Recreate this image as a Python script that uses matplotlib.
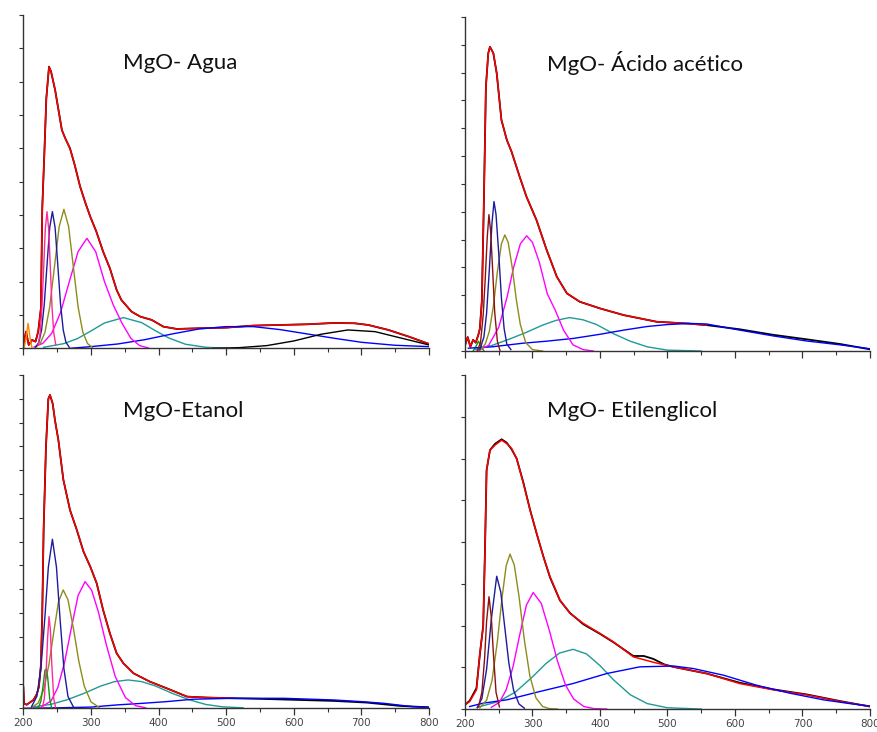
import matplotlib
matplotlib.use("Agg")
import matplotlib.pyplot as plt
from matplotlib.ticker import MultipleLocator, NullFormatter

# ---------------- MgO - Agua ----------------
agua_fit_x = [200, 204, 208, 213, 218, 222, 226, 228, 231, 234, 238, 241, 247, 257, 262, 269, 276, 284, 292, 299,
              308, 318, 328, 338, 345, 360, 373, 390, 407, 427, 460, 500, 540, 580, 620, 660, 690, 710, 740, 770, 800]
agua_fit_y = [0.1, 0.5, 0.1, 0.25, 0.2, 0.5, 1.2, 4.2, 5.8, 7.5, 8.45, 8.3, 7.75, 6.55, 6.3, 6.0, 5.5, 4.85, 4.35, 3.95,
              3.5, 2.9, 2.4, 1.75, 1.45, 1.1, 0.95, 0.85, 0.65, 0.58, 0.6, 0.62, 0.68, 0.7, 0.72, 0.76, 0.75, 0.7, 0.55, 0.35, 0.13]
agua_pink_x = [222, 225, 227.5, 230, 232.5, 235, 237.5, 240, 242.5, 245, 248]
agua_pink_y = [0.1, 0.47, 1.21, 2.38, 3.58, 4.1, 3.58, 2.38, 1.21, 0.47, 0.1]
agua_navy_x = [218, 223, 227, 231, 235, 239, 243, 247, 251, 255, 259, 263, 268]
agua_navy_y = [0.03, 0.18, 0.55, 1.33, 2.49, 3.62, 4.1, 3.62, 2.49, 1.33, 0.55, 0.18, 0.03]
agua_olive_x = [218, 225, 232, 239, 246, 253, 260, 267, 274, 281, 288, 295, 302]
agua_olive_y = [0.03, 0.14, 0.48, 1.24, 2.44, 3.65, 4.17, 3.65, 2.44, 1.24, 0.48, 0.14, 0.03]
agua_magenta_x = [216, 229, 242, 255, 268, 281, 294, 307, 320, 333, 346, 359, 372, 385]
agua_magenta_y = [0.04, 0.15, 0.45, 1.07, 2.0, 2.9, 3.3, 2.9, 2.0, 1.3, 0.75, 0.3, 0.08, 0.01]
agua_teal_x = [230, 260, 280, 300, 320, 348, 375, 395, 415, 440, 470, 500]
agua_teal_y = [0.03, 0.14, 0.29, 0.52, 0.76, 0.92, 0.77, 0.53, 0.31, 0.12, 0.03, 0.0]
agua_blue_x = [270, 300, 340, 380, 420, 460, 500, 540, 580, 620, 660, 700, 750, 800]
agua_blue_y = [0.0, 0.05, 0.13, 0.26, 0.43, 0.58, 0.65, 0.65, 0.56, 0.43, 0.3, 0.18, 0.09, 0.05]
agua_black_x = [480, 520, 560, 600, 640, 680, 720, 760, 800]
agua_black_y = [0, 0.02, 0.08, 0.22, 0.42, 0.55, 0.5, 0.3, 0.1]
agua_orange_x = [201, 204, 207, 210, 213]
agua_orange_y = [0, 0.3, 0.75, 0.3, 0]

# ---------------- MgO - Acido acetico ----------------
acetico_fit_x = [200, 204, 208, 212, 216, 220, 222, 225, 228, 231, 234.5, 237, 242, 247, 254, 262, 269, 281, 291, 306,
                 321, 336, 351, 370, 400, 435, 484, 528, 558]
acetico_fit_y = [0.2, 0.5, 0.15, 0.4, 0.3, 0.6, 0.8, 1.8, 5.4, 9.5, 10.7, 10.93, 10.7, 9.98, 8.3, 7.58, 7.16, 6.26, 5.55, 4.7,
                 3.63, 2.67, 2.07, 1.77, 1.53, 1.29, 1.05, 0.99, 0.93]
acetico_data_x = acetico_fit_x + [607, 657, 706, 756, 800]
acetico_data_y = acetico_fit_y + [0.78, 0.58, 0.42, 0.25, 0.06]
acetico_maroon_x = [218, 223, 227, 230, 233, 235.5, 238, 241, 244, 248, 252]
acetico_maroon_y = [0, 0.3, 1.3, 2.6, 4.1, 4.9, 4.3, 2.9, 1.4, 0.35, 0]
acetico_navy_x = [222, 228, 232, 236, 240, 243, 246, 250, 254, 258, 262, 268]
acetico_navy_y = [0.05, 0.5, 1.35, 2.9, 4.6, 5.37, 4.9, 3.5, 1.9, 0.8, 0.25, 0.05]
acetico_olive_x = [222, 230, 236, 242, 248, 254, 259, 264, 270, 276, 282, 290, 300, 315]
acetico_olive_y = [0.03, 0.25, 0.7, 1.6, 2.85, 3.85, 4.17, 3.9, 3.0, 1.85, 0.95, 0.3, 0.05, 0]
acetico_magenta_x = [220, 235, 250, 262, 272, 282, 291.4, 300, 310, 322, 334, 346, 360, 375, 390]
acetico_magenta_y = [0.03, 0.2, 0.85, 1.9, 3.0, 3.85, 4.14, 3.9, 3.2, 2.05, 1.45, 0.75, 0.22, 0.05, 0.0]
acetico_teal_x = [215, 240, 265, 290, 315, 335, 355, 375, 395, 420, 445, 470, 500, 550]
acetico_teal_y = [0.05, 0.2, 0.42, 0.66, 0.93, 1.1, 1.2, 1.12, 0.95, 0.62, 0.35, 0.15, 0.03, 0.0]
acetico_blue_x = [205, 240, 286, 320, 360, 400, 435, 470, 500, 533, 558, 607, 657, 706, 756, 800]
acetico_blue_y = [0.1, 0.15, 0.28, 0.35, 0.45, 0.6, 0.75, 0.88, 0.95, 0.99, 0.97, 0.75, 0.54, 0.36, 0.22, 0.08]
acetico_green_x = [212, 217, 220, 223, 228]
acetico_green_y = [0, 0.2, 0.35, 0.2, 0]

# ---------------- MgO - Etanol ----------------
etanol_data_x = [200, 201, 205, 210, 215, 220, 223, 226, 228, 230, 233.5, 237, 239.4, 243.4, 246.8, 251.8, 259.2, 269, 279, 289,
                 299, 308.5, 318, 328, 338, 348, 363, 387, 412, 442, 471, 511, 560, 609, 659, 708, 757, 800]
etanol_data_y = [0.9, 0.2, 0.15, 0.25, 0.35, 0.6, 0.9, 1.8, 4.0, 7.5, 11.0, 13.0, 13.16, 12.8, 12.1, 11.27, 9.6, 8.33, 7.5, 6.58,
                 5.95, 5.25, 4.13, 3.15, 2.31, 1.89, 1.47, 1.12, 0.84, 0.49, 0.45, 0.42, 0.39, 0.35, 0.31, 0.24, 0.1, 0.04]
etanol_fit_x = etanol_data_x[:32]
etanol_fit_y = etanol_data_y[:32]
etanol_navy_x = [212, 220, 226, 232, 237, 243, 249, 254, 260, 266, 274]
etanol_navy_y = [0.06, 0.5, 1.67, 3.87, 5.93, 7.1, 5.93, 3.87, 1.67, 0.5, 0.06]
etanol_pink_x = [228, 231, 234, 236, 238, 240, 242, 245, 248]
etanol_pink_y = [0, 0.4, 1.7, 3.0, 3.85, 3.3, 1.9, 0.4, 0]
etanol_green_x = [222, 226, 229, 232, 234, 236, 239, 242]
etanol_green_y = [0, 0.3, 0.9, 1.6, 1.65, 1.3, 0.4, 0]
etanol_olive_x = [213, 222, 230, 238, 245, 252, 259, 266, 274, 282, 290, 300, 312]
etanol_olive_y = [0.05, 0.22, 0.77, 1.86, 3.2, 4.47, 4.97, 4.56, 3.37, 1.99, 0.94, 0.27, 0.04]
etanol_magenta_x = [226, 241, 251, 261, 271, 281, 291.3, 301, 311, 323, 336, 351, 366, 381]
etanol_magenta_y = [0.04, 0.31, 0.87, 1.93, 3.37, 4.74, 5.32, 4.96, 4.05, 2.64, 1.33, 0.45, 0.11, 0.02]
etanol_teal_x = [215, 240, 265, 290, 315, 335, 355, 375, 395, 420, 445, 470, 495, 525]
etanol_teal_y = [0.06, 0.16, 0.36, 0.63, 0.94, 1.12, 1.19, 1.12, 0.94, 0.63, 0.36, 0.16, 0.06, 0.02]
etanol_blue_x = [200, 250, 300, 338, 377, 412, 451, 511, 585, 659, 700, 733, 760, 775, 800]
etanol_blue_y = [0.0, 0.02, 0.05, 0.14, 0.21, 0.28, 0.38, 0.42, 0.42, 0.35, 0.28, 0.21, 0.12, 0.07, 0.04]

# ---------------- MgO - Etilenglicol ----------------
glicol_fit_x = [200, 207, 217, 222, 227, 229.6, 232, 237, 244.4, 254.3, 261.7, 269.1, 276.5, 286.4, 296.3, 306.2, 316, 326,
                340.7, 355.6, 375.3, 400, 419.8, 449.4, 479, 508.6, 558, 607, 656.8, 706, 755.6, 800]
glicol_fit_y = [0.1, 0.18, 0.46, 1.33, 1.97, 3.8, 5.72, 6.2, 6.32, 6.44, 6.36, 6.24, 6.0, 5.41, 4.77, 4.21, 3.65, 3.17,
                2.61, 2.29, 2.05, 1.81, 1.61, 1.25, 1.12, 1.01, 0.85, 0.61, 0.46, 0.34, 0.18, 0.06]
glicol_data_x = [200, 207, 217, 222, 227, 229.6, 232, 237, 244.4, 254.3, 261.7, 269.1, 276.5, 286.4, 296.3, 306.2, 316, 326,
                 340.7, 355.6, 375.3, 400, 419.8, 449.4, 465, 479, 495, 508.6, 558, 607, 656.8, 706, 755.6, 800]
glicol_data_y = [0.1, 0.2, 0.5, 1.3, 2.0, 3.8, 5.72, 6.2, 6.35, 6.46, 6.38, 6.22, 6.0, 5.43, 4.78, 4.2, 3.66, 3.15,
                 2.6, 2.3, 2.03, 1.8, 1.6, 1.27, 1.27, 1.2, 1.07, 1.01, 0.85, 0.63, 0.47, 0.35, 0.19, 0.06]
glicol_maroon_x = [220, 225, 229, 232, 235.6, 239, 242, 246, 251]
glicol_maroon_y = [0.05, 0.4, 1.2, 2.1, 2.69, 2.2, 1.35, 0.4, 0.05]
glicol_navy_x = [218, 225, 232, 239, 247, 253, 259, 265, 272, 280, 288]
glicol_navy_y = [0.03, 0.25, 0.95, 2.15, 3.18, 2.8, 1.95, 1.1, 0.45, 0.12, 0.02]
glicol_olive_x = [222, 232, 240, 248, 255, 261, 266.7, 273, 280, 288, 296, 305, 315, 325, 337]
glicol_olive_y = [0.03, 0.21, 0.68, 1.62, 2.68, 3.43, 3.71, 3.45, 2.7, 1.65, 0.8, 0.27, 0.06, 0.01, 0.0]
glicol_magenta_x = [239, 251, 261, 271, 281, 291, 301, 313, 325, 337, 349, 361, 376, 391, 410]
glicol_magenta_y = [0.04, 0.16, 0.46, 1.0, 1.77, 2.49, 2.79, 2.53, 1.88, 1.15, 0.57, 0.24, 0.06, 0.01, 0.0]
glicol_teal_x = [220, 250, 275, 300, 320, 340, 360, 380, 400, 420, 445, 470, 500, 550]
glicol_teal_y = [0.05, 0.18, 0.41, 0.77, 1.09, 1.34, 1.43, 1.32, 1.04, 0.70, 0.34, 0.13, 0.03, 0.0]
glicol_blue_x = [207, 227, 262, 311, 360, 410, 459, 509, 538, 583, 632, 681, 731, 770, 800]
glicol_blue_y = [0.06, 0.14, 0.22, 0.42, 0.61, 0.85, 1.01, 1.03, 0.97, 0.81, 0.57, 0.38, 0.22, 0.13, 0.07]

RED = "#ff0000"
NAVY = "#1c1c9c"
OLIVE = "#8c8c1c"
MAGENTA = "#ff00ff"
TEAL = "#1f9a96"
BLUE = "#0000ff"
PINK = "#ff2a9a"
MAROON = "#8b1010"
GREEN = "#0a9a0a"
ORANGE = "#ff8800"

panels = [
    dict(rect=[0.0266, 0.5242, 0.4626, 0.4553], ymax=10, title="MgO- Agua", tpos=(0.246, 0.856), labels=False,
         data=(agua_fit_x, agua_fit_y), fit=(agua_fit_x, agua_fit_y),
         comps=[(agua_orange_x, agua_orange_y, ORANGE), (agua_teal_x, agua_teal_y, TEAL),
                (agua_blue_x, agua_blue_y, BLUE), (agua_black_x, agua_black_y, "black"),
                (agua_magenta_x, agua_magenta_y, MAGENTA), (agua_olive_x, agua_olive_y, OLIVE),
                (agua_navy_x, agua_navy_y, NAVY), (agua_pink_x, agua_pink_y, PINK)]),
    dict(rect=[0.5302, 0.5205, 0.4618, 0.4563], ymax=12, title="MgO- Ácido acético", tpos=(0.202, 0.862), labels=False,
         data=(acetico_data_x, acetico_data_y), fit=(acetico_fit_x, acetico_fit_y),
         comps=[(acetico_green_x, acetico_green_y, GREEN), (acetico_teal_x, acetico_teal_y, TEAL),
                (acetico_blue_x, acetico_blue_y, BLUE), (acetico_magenta_x, acetico_magenta_y, MAGENTA),
                (acetico_olive_x, acetico_olive_y, OLIVE), (acetico_navy_x, acetico_navy_y, NAVY),
                (acetico_maroon_x, acetico_maroon_y, MAROON)]),
    dict(rect=[0.0266, 0.0324, 0.4626, 0.4553], ymax=14, title="MgO-Etanol", tpos=(0.246, 0.892), labels=True,
         data=(etanol_data_x, etanol_data_y), fit=(etanol_fit_x, etanol_fit_y),
         comps=[(etanol_teal_x, etanol_teal_y, TEAL), (etanol_blue_x, etanol_blue_y, BLUE),
                (etanol_magenta_x, etanol_magenta_y, MAGENTA), (etanol_olive_x, etanol_olive_y, OLIVE),
                (etanol_navy_x, etanol_navy_y, NAVY), (etanol_green_x, etanol_green_y, GREEN),
                (etanol_pink_x, etanol_pink_y, PINK)]),
    dict(rect=[0.5302, 0.0314, 0.4618, 0.4563], ymax=8, title="MgO- Etilenglicol", tpos=(0.202, 0.892), labels=True,
         data=(glicol_data_x, glicol_data_y), fit=(glicol_fit_x, glicol_fit_y),
         comps=[(glicol_teal_x, glicol_teal_y, TEAL), (glicol_blue_x, glicol_blue_y, BLUE),
                (glicol_magenta_x, glicol_magenta_y, MAGENTA), (glicol_olive_x, glicol_olive_y, OLIVE),
                (glicol_navy_x, glicol_navy_y, NAVY), (glicol_maroon_x, glicol_maroon_y, MAROON)]),
]

fig = plt.figure(figsize=(8.77, 7.32), dpi=100)

for p in panels:
    ax = fig.add_axes(p["rect"])
    ax.plot(p["data"][0], p["data"][1], color="black", lw=1.3)
    ax.plot(p["fit"][0], p["fit"][1], color=RED, lw=1.1)
    for cx, cy, c in p["comps"]:
        ax.plot(cx, cy, color=c, lw=1.0)

    ax.set_xlim(200, 800)
    ax.set_ylim(0, p["ymax"])
    for s in ["top", "right"]:
        ax.spines[s].set_visible(False)
    for s in ["left", "bottom"]:
        ax.spines[s].set_color("#333333")
        ax.spines[s].set_linewidth(1.0)

    ax.xaxis.set_major_locator(MultipleLocator(100))
    ax.xaxis.set_minor_locator(MultipleLocator(50))
    ax.yaxis.set_major_locator(MultipleLocator(1))
    ax.yaxis.set_major_formatter(NullFormatter())
    ax.tick_params(axis="x", which="major", direction="out", length=5, width=0.9, color="#333333",
                   labelsize=7.5, labelcolor="#444444", pad=2)
    ax.tick_params(axis="x", which="minor", direction="out", length=3, width=0.8, color="#333333")
    ax.tick_params(axis="y", which="major", direction="out", length=3, width=0.8, color="#333333")
    if not p["labels"]:
        ax.xaxis.set_major_formatter(NullFormatter())

    ax.text(p["tpos"][0], p["tpos"][1], p["title"], transform=ax.transAxes, ha="left", va="center",
            fontsize=16, family=["Lato", "DejaVu Sans"], color="#111111")

fig.savefig("out.png", dpi=100)
